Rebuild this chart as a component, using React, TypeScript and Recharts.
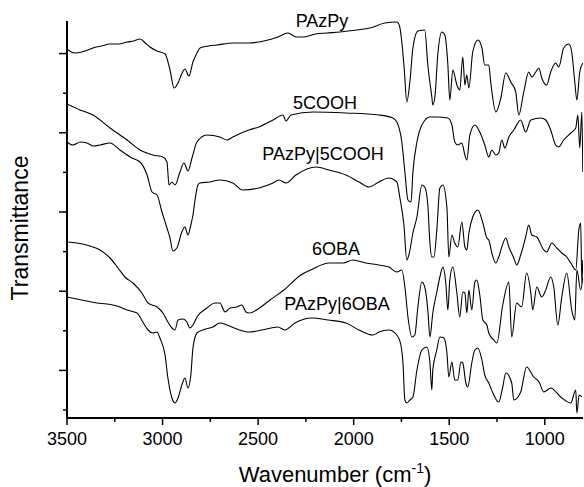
import React from 'react'
import { LineChart, Line, XAxis, YAxis } from 'recharts'

// wavenumber (cm-1), transmittance (a.u., stacked offsets as plotted)
const PAZPY: number[][] = [
  [3500, 361], [3460, 357], [3422, 358], [3390, 360], [3364, 362], [3320, 364], [3275, 366], [3230, 366],
  [3186, 368], [3150, 369], [3118, 371], [3090, 367], [3066, 363], [3029, 359], [2987, 356], [2961, 340],
  [2940, 322], [2919, 327], [2900, 336], [2883, 341], [2862, 334], [2841, 348], [2820, 357], [2804, 362],
  [2760, 364], [2715, 365], [2632, 367], [2548, 367], [2470, 369], [2396, 373], [2344, 377], [2300, 373],
  [2266, 373], [2200, 376], [2140, 377], [2072, 378], [1983, 380], [1915, 382], [1837, 387], [1774, 388],
  [1760, 384], [1748, 368], [1735, 340], [1722, 308], [1706, 328], [1690, 362], [1664, 379], [1628, 380],
  [1612, 345], [1591, 313], [1586, 305], [1575, 313], [1560, 355], [1539, 378], [1523, 375], [1507, 345],
  [1497, 310], [1481, 340], [1460, 325], [1445, 320], [1429, 353], [1418, 325], [1408, 335], [1397, 322],
  [1377, 358], [1350, 370], [1329, 362], [1314, 345], [1293, 345], [1283, 328], [1256, 298], [1230, 312],
  [1204, 337], [1178, 328], [1152, 318], [1136, 295], [1110, 318], [1084, 338], [1068, 333], [1047, 338],
  [1031, 342], [1016, 332], [990, 325], [969, 338], [943, 347], [927, 343], [901, 362], [874, 366],
  [859, 358], [843, 328], [832, 310], [817, 338], [801, 347],
]

const COOH5: number[][] = [
  [3500, 306], [3432, 300], [3364, 295], [3275, 282], [3186, 270], [3118, 260], [3050, 255], [2998, 253],
  [2977, 248], [2966, 225], [2951, 228], [2935, 225], [2909, 238], [2888, 247], [2867, 239], [2846, 252],
  [2820, 268], [2768, 275], [2700, 273], [2663, 270], [2632, 273], [2548, 280], [2496, 283], [2422, 290],
  [2370, 295], [2354, 289], [2328, 295], [2213, 298], [2040, 297], [1868, 295], [1795, 292], [1774, 288],
  [1748, 268], [1732, 238], [1716, 210], [1700, 208], [1690, 238], [1669, 268], [1643, 285], [1601, 293],
  [1565, 293], [1507, 292], [1486, 285], [1471, 268], [1455, 265], [1434, 267], [1418, 255], [1408, 250],
  [1392, 275], [1366, 285], [1340, 278], [1314, 265], [1293, 253], [1277, 260], [1256, 255], [1241, 257],
  [1225, 270], [1209, 262], [1188, 273], [1162, 280], [1126, 290], [1100, 278], [1073, 290], [1021, 292],
  [995, 290], [969, 280], [943, 265], [927, 263], [901, 270], [864, 277], [838, 282], [827, 295],
  [817, 262], [806, 298], [801, 238],
]

const PAZPY_5COOH: number[][] = [
  [3500, 268], [3469, 265], [3430, 268], [3396, 267], [3360, 264], [3327, 265], [3275, 267], [3223, 260],
  [3160, 252], [3118, 248], [3081, 235], [3055, 218], [3029, 215], [3003, 198], [2977, 182], [2961, 172],
  [2946, 159], [2925, 162], [2899, 178], [2883, 183], [2867, 175], [2852, 185], [2841, 195], [2830, 210],
  [2815, 225], [2804, 227], [2752, 228], [2700, 230], [2632, 227], [2580, 220], [2496, 222], [2422, 227],
  [2391, 230], [2354, 227], [2302, 235], [2197, 243], [2129, 240], [2040, 235], [1972, 228], [1920, 223],
  [1868, 228], [1816, 232], [1774, 228], [1758, 212], [1737, 185], [1722, 150], [1711, 155], [1690, 177],
  [1669, 193], [1643, 225], [1628, 223], [1612, 205], [1601, 167], [1591, 153], [1580, 153], [1565, 180],
  [1549, 222], [1533, 225], [1512, 202], [1502, 153], [1486, 175], [1471, 167], [1455, 163], [1434, 188],
  [1418, 163], [1408, 160], [1397, 177], [1377, 193], [1350, 200], [1324, 187], [1303, 172], [1293, 170],
  [1277, 157], [1256, 147], [1241, 153], [1225, 163], [1204, 172], [1188, 163], [1162, 152], [1147, 145],
  [1126, 155], [1100, 173], [1084, 185], [1068, 175], [1042, 173], [1005, 160], [990, 158], [963, 167],
  [937, 162], [911, 157], [885, 153], [864, 147], [838, 140], [822, 180], [812, 187], [806, 127], [801, 150],
]

const OBA6: number[][] = [
  [3500, 168], [3448, 167], [3380, 164], [3327, 160], [3275, 152], [3233, 142], [3197, 133], [3155, 127],
  [3108, 117], [3076, 107], [3029, 103], [2998, 97], [2972, 88], [2951, 82], [2935, 80], [2919, 90],
  [2893, 91], [2873, 88], [2857, 82], [2841, 85], [2820, 93], [2768, 102], [2726, 107], [2700, 107],
  [2673, 98], [2647, 102], [2611, 103], [2585, 105], [2564, 98], [2548, 97], [2485, 103], [2438, 110],
  [2365, 120], [2276, 135], [2224, 140], [2129, 147], [2056, 147], [2004, 150], [1936, 147], [1868, 145],
  [1816, 143], [1774, 138], [1748, 140], [1732, 123], [1716, 93], [1695, 73], [1680, 75], [1664, 103],
  [1643, 128], [1628, 123], [1612, 100], [1601, 73], [1586, 97], [1565, 118], [1549, 133], [1533, 143],
  [1518, 127], [1507, 100], [1497, 130], [1481, 143], [1460, 117], [1445, 93], [1429, 118], [1418, 117],
  [1408, 97], [1397, 120], [1382, 100], [1366, 128], [1356, 130], [1340, 115], [1324, 90], [1303, 85],
  [1293, 77], [1267, 70], [1251, 67], [1220, 105], [1188, 128], [1173, 73], [1147, 107], [1121, 103],
  [1095, 137], [1073, 117], [1063, 100], [1042, 123], [1016, 113], [995, 120], [969, 133], [953, 123],
  [932, 85], [911, 113], [885, 137], [859, 100], [843, 90], [832, 140], [812, 120], [801, 133],
]

const PAZPY_6OBA: number[][] = [
  [3500, 113], [3448, 111], [3396, 109], [3343, 107], [3291, 106], [3238, 104], [3186, 100], [3134, 97],
  [3103, 88], [3076, 80], [3050, 77], [3029, 78], [3014, 72], [2987, 55], [2972, 32], [2951, 12],
  [2935, 7], [2919, 12], [2899, 25], [2883, 32], [2867, 22], [2852, 35], [2841, 62], [2820, 77],
  [2789, 80], [2737, 83], [2700, 87], [2663, 85], [2611, 81], [2548, 78], [2480, 80], [2396, 83],
  [2360, 80], [2307, 87], [2218, 92], [2135, 90], [2040, 87], [1972, 80], [1899, 75], [1868, 78],
  [1816, 80], [1774, 75], [1753, 65], [1742, 47], [1732, 10], [1722, 7], [1706, 10], [1690, 13],
  [1669, 40], [1643, 60], [1617, 63], [1601, 47], [1591, 20], [1586, 40], [1565, 60], [1549, 73],
  [1528, 72], [1512, 57], [1502, 33], [1486, 48], [1471, 30], [1455, 30], [1439, 48], [1429, 47],
  [1413, 27], [1403, 23], [1382, 47], [1366, 60], [1350, 62], [1329, 50], [1314, 35], [1293, 27],
  [1267, 15], [1241, 8], [1220, 23], [1204, 37], [1173, 27], [1162, 10], [1126, 18], [1095, 43],
  [1058, 33], [1030, 28], [1005, 18], [969, 22], [917, 13], [864, 7], [838, 20], [832, -3],
  [820, 15], [806, 13],
]

const SERIES_NAMES = ['PAzPy', '5COOH', 'PAzPy|5COOH', '6OBA', 'PAzPy|6OBA']
const X_TICKS = [3500, 3250, 3000, 2750, 2500, 2250, 2000, 1750, 1500, 1250, 1000]
const Y_TICKS = [0, 39.6, 79.2, 118.8, 158.4, 198, 237.6, 277.2, 316.8, 356.4]

const toPoints = (pairs: number[][]) => pairs.map(([wn, t]) => ({ wn, t }))

const FONT = '"Liberation Sans", Arial, Helvetica, sans-serif'

const XTick = (props: any) => {
  const { x, y, payload } = props
  const major = payload.value % 500 === 0
  return (
    <g>
      <line x1={x} y1={y} x2={x} y2={y + (major ? 7 : 4)} stroke="#000" strokeWidth={1.5} />
      {major && (
        <text x={x} y={y + 27} textAnchor="middle" fontSize={18} fontFamily={FONT} fill="#000">
          {payload.value}
        </text>
      )}
    </g>
  )
}

const YTick = (props: any) => {
  const { x, y, payload } = props
  const major = Math.round(payload.value / 39.6) % 2 === 1
  return <line x1={x} y1={y} x2={x - (major ? 8 : 4)} y2={y} stroke="#000" strokeWidth={1.5} />
}

export default function App() {
  const traces = [PAZPY, COOH5, PAZPY_5COOH, OBA6, PAZPY_6OBA]
  return (
    <div style={{ position: 'absolute', left: 0, top: 0, width: 584, height: 487, background: '#fff', fontFamily: FONT }}>
      <LineChart width={584} height={487} margin={{ top: 21, right: 1, bottom: 39, left: 47 }}>
        <XAxis
          type="number"
          dataKey="wn"
          domain={[800, 3500]}
          reversed
          allowDataOverflow
          ticks={X_TICKS}
          interval={0}
          height={30}
          tickSize={0}
          tickMargin={0}
          tickLine={false}
          tick={<XTick />}
          axisLine={{ stroke: '#000', strokeWidth: 2 }}
        />
        <YAxis
          type="number"
          domain={[-8, 389]}
          allowDataOverflow
          ticks={Y_TICKS}
          interval={0}
          width={20}
          tickSize={0}
          tickMargin={0}
          tickLine={false}
          tick={<YTick />}
          axisLine={{ stroke: '#000', strokeWidth: 2 }}
        />
        {traces.map((tr, i) => (
          <Line
            key={SERIES_NAMES[i]}
            name={SERIES_NAMES[i]}
            data={toPoints(tr)}
            dataKey="t"
            type="monotone"
            stroke="#000"
            strokeWidth={1.1}
            dot={false}
            activeDot={false}
            isAnimationActive={false}
          />
        ))}
      </LineChart>
      <svg width={584} height={487} style={{ position: 'absolute', left: 0, top: 0, pointerEvents: 'none' }}>
        <g fontFamily={FONT} fill="#000" textAnchor="middle">
          <text x={322} y={27} fontSize={18}>{SERIES_NAMES[0]}</text>
          <text x={325} y={109} fontSize={18}>{SERIES_NAMES[1]}</text>
          <text x={323} y={160} fontSize={18}>{SERIES_NAMES[2]}</text>
          <text x={336} y={255} fontSize={18}>{SERIES_NAMES[3]}</text>
          <text x={337} y={310} fontSize={18}>{SERIES_NAMES[4]}</text>
          <text x={28} y={228} fontSize={23} transform="rotate(-90 28 228)">Transmittance</text>
          <text x={335} y={482} fontSize={22}>
            Wavenumber (cm<tspan fontSize={14} dy={-9}>-1</tspan><tspan dy={9}>)</tspan>
          </text>
        </g>
      </svg>
    </div>
  )
}
